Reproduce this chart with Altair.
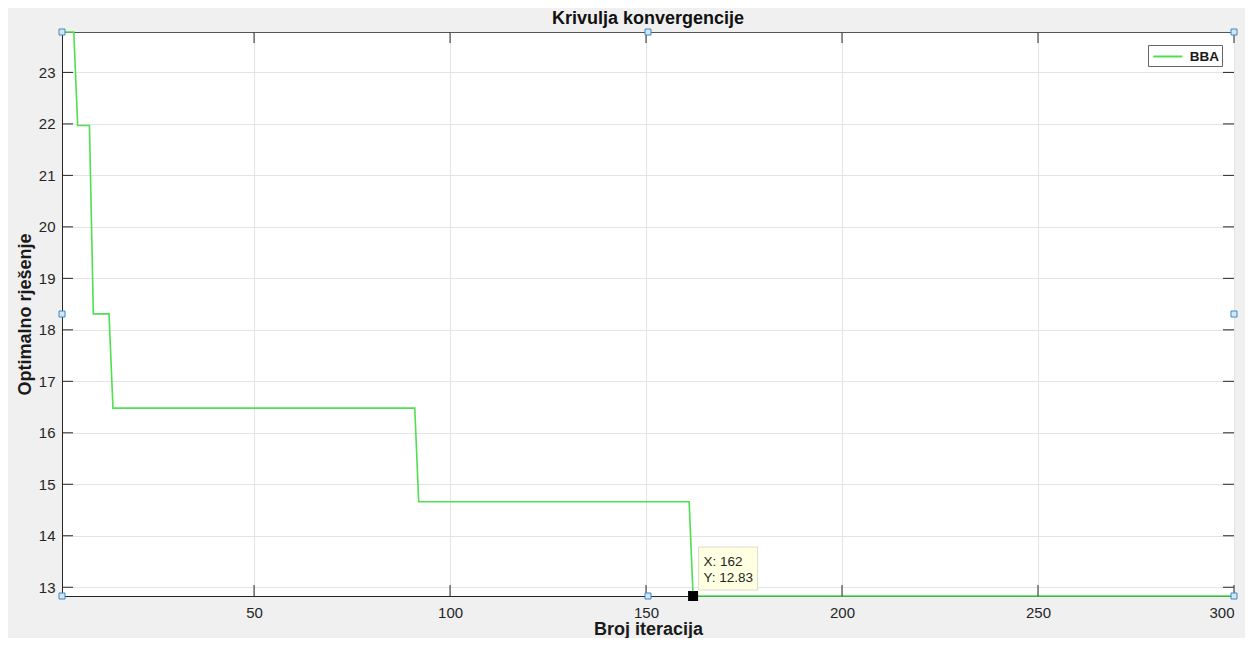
import altair as alt
import pandas as pd

# ---- data ----
iter_x = [1, 4, 5, 8, 9, 13, 14, 91, 92, 161, 162, 300]
best_y = [23.785, 23.785, 21.97, 21.97, 18.31, 18.31, 16.48, 16.48, 14.66, 14.66, 12.83, 12.83]
series_name = "BBA"

x_ticks = [50, 100, 150, 200, 250, 300]
y_ticks = [13, 14, 15, 16, 17, 18, 19, 20, 21, 22, 23]
x_domain = [1, 300]
y_domain = [12.83, 23.785]

tip_x = [162]
tip_y = [12.83]
tip_text = ["X: 162\nY: 12.83"]

handle_x = [1, 150.5, 300, 1, 300, 1, 150.5, 300]
handle_y = [23.785, 23.785, 23.785, 18.3075, 18.3075, 12.83, 12.83, 12.83]

chart_title = ["Krivulja konvergencije"]

W, H = 1172, 564
FONT = "Liberation Sans"
AX = "#262626"

df = pd.DataFrame({"iter": iter_x, "best": best_y, "series": [series_name] * len(iter_x)})
df_xt = pd.DataFrame({"iter": x_ticks})
df_yt = pd.DataFrame({"best": y_ticks})
df_tip = pd.DataFrame({"iter": tip_x, "best": tip_y, "label": tip_text})
df_h = pd.DataFrame({"iter": handle_x, "best": handle_y})
df_title = pd.DataFrame({"t": chart_title})

xs = alt.Scale(domain=x_domain, nice=False, zero=False)
ys = alt.Scale(domain=y_domain, nice=False, zero=False)

x_axis = alt.Axis(values=x_ticks, grid=True, gridColor="#e4e4e4", ticks=False, tickSize=0,
                  domainColor=AX, labelFontSize=15, labelColor=AX, labelPadding=9,
                  labelFont=FONT, title="Broj iteracija", titleFont=FONT, titleFontSize=18,
                  titleFontWeight="bold", titleColor="#1a1a1a",
                  titleBaseline="alphabetic", titleY=38)
y_axis = alt.Axis(values=y_ticks, grid=True, gridColor="#e4e4e4", ticks=False, tickSize=0,
                  domainColor=AX, labelFontSize=15, labelColor=AX, labelPadding=7,
                  labelFont=FONT, title="Optimalno rješenje", titleFont=FONT, titleFontSize=18,
                  titleFontWeight="bold", titleColor="#1a1a1a",
                  titleBaseline="alphabetic", titleX=-32)

X = alt.X("iter:Q", scale=xs, axis=x_axis)
Y = alt.Y("best:Q", scale=ys, axis=y_axis)

line = alt.Chart(df).mark_line(strokeWidth=1.6, interpolate="linear").encode(
    x=X, y=Y,
    color=alt.Color("series:N", scale=alt.Scale(range=["#4fe04f"]),
                    legend=alt.Legend(title=None, orient="none", legendX=1086, legendY=13,
                                      symbolType="M-2,0L2,0", symbolSize=210, symbolStrokeWidth=2,
                                      symbolOffset=8.25,
                                      labelFont=FONT, labelFontSize=13.5, labelFontWeight="bold",
                                      labelColor="#1a1a1a", labelOffset=13.5, padding=3,
                                      strokeColor="#666666", fillColor="white")),
)

xt_bottom = alt.Chart(df_xt).mark_rule(color=AX, strokeWidth=1).encode(
    x=alt.X("iter:Q", scale=xs), y=alt.value(H), y2=alt.value(H - 11))
xt_top = alt.Chart(df_xt).mark_rule(color=AX, strokeWidth=1).encode(
    x=alt.X("iter:Q", scale=xs), y=alt.value(0), y2=alt.value(11))
yt_left = alt.Chart(df_yt).mark_rule(color=AX, strokeWidth=1).encode(
    y=alt.Y("best:Q", scale=ys), x=alt.value(0), x2=alt.value(11))
yt_right = alt.Chart(df_yt).mark_rule(color=AX, strokeWidth=1).encode(
    y=alt.Y("best:Q", scale=ys), x=alt.value(W), x2=alt.value(W - 11))

tip_box = alt.Chart(df_tip).mark_rect(fill="#ffffe1", stroke="#dcdcc8", strokeWidth=1,
                                      xOffset=5.5, x2Offset=64.5, yOffset=-49, y2Offset=-6).encode(
    x=alt.X("iter:Q", scale=xs), x2=alt.X2("iter"),
    y=alt.Y("best:Q", scale=ys), y2=alt.Y2("best"))
tip_label = alt.Chart(df_tip).mark_text(align="left", baseline="top", dx=10.5, dy=-41,
                                        lineBreak="\n", lineHeight=16, fontSize=13.5,
                                        font=FONT, color="#262626").encode(
    x=alt.X("iter:Q", scale=xs), y=alt.Y("best:Q", scale=ys), text="label:N")
tip_mark = alt.Chart(df_tip).mark_square(size=100, color="black", opacity=1).encode(
    x=alt.X("iter:Q", scale=xs), y=alt.Y("best:Q", scale=ys))

handles = alt.Chart(df_h).mark_square(size=36, fill="#d3e6f8", stroke="#3d86c6",
                                      strokeWidth=1, opacity=1, filled=False).encode(
    x=alt.X("iter:Q", scale=xs), y=alt.Y("best:Q", scale=ys))

title_mark = alt.Chart(df_title).mark_text(font=FONT, fontSize=18, fontWeight="bold",
                                           color="#111111", align="center",
                                           baseline="alphabetic").encode(
    x=alt.value(W / 2), y=alt.value(-8), text="t:N")

chart = alt.layer(line, xt_bottom, xt_top, yt_left, yt_right, tip_box, tip_label, tip_mark,
                  handles, title_mark).properties(
    width=W, height=H,
    padding={"left": 54, "top": 24, "right": 11, "bottom": 42},
    autosize=alt.AutoSizeParams(type="none"),
    background="#f0f0f0",
).configure_view(stroke="#555555", strokeWidth=1, fill="white")

chart.save("out.html", embed_options={"renderer": "svg", "actions": False})
